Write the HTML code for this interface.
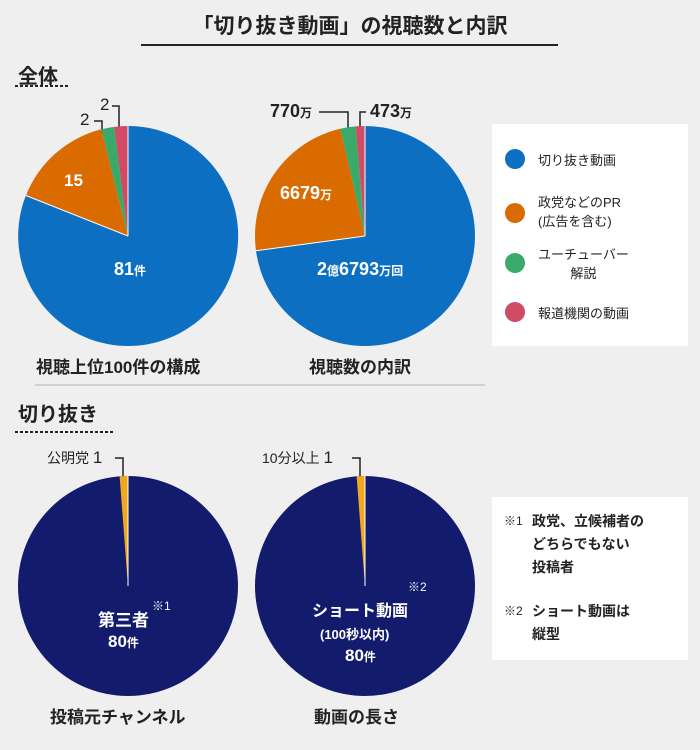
<!DOCTYPE html><html><head><meta charset="utf-8"><style>
body{margin:0;width:700px;height:750px;background:#efefef;font-family:"Liberation Sans","Noto Sans CJK JP",sans-serif;color:#222;position:relative;overflow:hidden}
.a{position:absolute;white-space:nowrap}
.b{font-weight:bold}
.dot{height:2px;background:repeating-linear-gradient(90deg,#222 0 3px,transparent 3px 5px)}
</style></head><body>
<div class="a b" style="left:0;width:700px;top:10px;text-align:center;font-size:21px">「切り抜き動画」の視聴数と内訳</div>
<div class="a" style="left:141px;top:44px;width:417px;height:2px;background:#222"></div>
<div class="a b" style="left:18px;top:60px;font-size:20px">全体</div>
<div class="a dot" style="left:15px;top:85px;width:55px"></div>
<div class="a" style="left:35px;top:384px;width:450px;height:2px;background:#d0d0d0"></div>
<div class="a b" style="left:18px;top:398px;font-size:20px">切り抜き</div>
<div class="a dot" style="left:15px;top:431px;width:100px"></div>

<svg class="a" style="left:0;top:0" width="700" height="750">
<g stroke="#222" stroke-width="1.5" fill="none">
<polyline points="94,121 102,121 102,135"/>
<polyline points="112,106 119,106 119,128"/>
<polyline points="319,112 348,112 348,130"/>
<polyline points="366,112 360,112 360,128"/>
<polyline points="115,458 123,458 123,478"/>
<polyline points="352,458 360,458 360,478"/>
</g>
<g transform="translate(128,236)">
<path d="M0,0 L0,-110 A110,110 0 1 1 -102.1,-40.5Z" fill="#0c6fc1"/>
<path d="M0,0 L-102.1,-40.5 A110,110 0 0 1 -26.6,-106.7Z" fill="#d96b00"/>
<path d="M0,0 L-26.6,-106.7 A110,110 0 0 1 -13.8,-109.1Z" fill="#3aaa6b"/>
<path d="M0,0 L-13.8,-109.1 A110,110 0 0 1 0,-110Z" fill="#cf4b66"/>
<g stroke="#fff" stroke-width="1"><line x1="0" y1="0" x2="0" y2="-110"/><line x1="0" y1="0" x2="-102.1" y2="-40.5"/></g>
</g>
<g transform="translate(365,236)">
<path d="M0,0 L0,-110 A110,110 0 1 1 -109,14.8Z" fill="#0c6fc1"/>
<path d="M0,0 L-109,14.8 A110,110 0 0 1 -24.6,-107.2Z" fill="#d96b00"/>
<path d="M0,0 L-24.6,-107.2 A110,110 0 0 1 -9.4,-109.6Z" fill="#3aaa6b"/>
<path d="M0,0 L-9.4,-109.6 A110,110 0 0 1 0,-110Z" fill="#cf4b66"/>
<g stroke="#fff" stroke-width="1"><line x1="0" y1="0" x2="0" y2="-110"/><line x1="0" y1="0" x2="-109" y2="14.8"/></g>
</g>
<g transform="translate(128,586)">
<circle r="110" fill="#131b6c"/>
<path d="M0,0 L-8.4,-109.7 A110,110 0 0 1 0,-110Z" fill="#f0a91e"/>
<line x1="0" y1="0" x2="0" y2="-110" stroke="#fff" stroke-width="1"/>
</g>
<g transform="translate(365,586)">
<circle r="110" fill="#131b6c"/>
<path d="M0,0 L-8.4,-109.7 A110,110 0 0 1 0,-110Z" fill="#f0a91e"/>
<line x1="0" y1="0" x2="0" y2="-110" stroke="#fff" stroke-width="1"/>
</g>
</svg>

<div class="a" style="left:80px;top:110px;font-size:17px">2</div>
<div class="a" style="left:100px;top:95px;font-size:17px">2</div>
<div class="a b" style="left:270px;top:101px;font-size:18px">770<span style="font-size:12px">万</span></div>
<div class="a b" style="left:370px;top:101px;font-size:18px">473<span style="font-size:12px">万</span></div>
<div class="a b" style="left:64px;top:171px;font-size:17px;color:#fff">15</div>
<div class="a b" style="left:280px;top:183px;font-size:18px;color:#fff">6679<span style="font-size:12px">万</span></div>
<div class="a b" style="left:114px;top:259px;font-size:18px;color:#fff">81<span style="font-size:12px">件</span></div>
<div class="a b" style="left:317px;top:259px;font-size:18px;color:#fff">2<span style="font-size:12px">億</span>6793<span style="font-size:12px">万回</span></div>
<div class="a b" style="left:36px;top:353px;font-size:17px">視聴上位100件の構成</div>
<div class="a b" style="left:309px;top:353px;font-size:17px">視聴数の内訳</div>

<div class="a" style="left:492px;top:124px;width:196px;height:222px;background:#fff"></div>
<div class="a" style="left:505px;top:149px;width:20px;height:20px;border-radius:50%;background:#0c6fc1"></div>
<div class="a" style="left:538px;top:150px;font-size:13px">切り抜き動画</div>
<div class="a" style="left:505px;top:203px;width:20px;height:20px;border-radius:50%;background:#d96b00"></div>
<div class="a" style="left:538px;top:193px;font-size:13px;line-height:19px">政党などのPR<br>(広告を含む)</div>
<div class="a" style="left:505px;top:253px;width:20px;height:20px;border-radius:50%;background:#3aaa6b"></div>
<div class="a" style="left:538px;top:245px;font-size:13px;line-height:19px;text-align:center">ユーチューバー<br>解説</div>
<div class="a" style="left:505px;top:302px;width:20px;height:20px;border-radius:50%;background:#cf4b66"></div>
<div class="a" style="left:538px;top:303px;font-size:13px">報道機関の動画</div>

<div class="a" style="left:47px;top:448px;font-size:14px">公明党 <span style="font-size:17px">1</span></div>
<div class="a" style="left:262px;top:448px;font-size:14px">10分以上 <span style="font-size:17px">1</span></div>
<div class="a b" style="left:98px;top:606px;font-size:17px;color:#fff">第三者</div>
<div class="a" style="left:152px;top:597px;font-size:12px;color:#fff">※1</div>
<div class="a b" style="left:108px;top:632px;font-size:17px;color:#fff">80<span style="font-size:12px">件</span></div>
<div class="a" style="left:408px;top:578px;font-size:12px;color:#fff">※2</div>
<div class="a b" style="left:312px;top:597px;font-size:16px;color:#fff">ショート動画</div>
<div class="a b" style="left:320px;top:624px;font-size:13px;color:#fff">(100秒以内)</div>
<div class="a b" style="left:345px;top:646px;font-size:17px;color:#fff">80<span style="font-size:12px">件</span></div>
<div class="a b" style="left:50px;top:703px;font-size:17px">投稿元チャンネル</div>
<div class="a b" style="left:314px;top:703px;font-size:17px">動画の長さ</div>

<div class="a" style="left:492px;top:497px;width:196px;height:163px;background:#fff"></div>
<div class="a" style="left:504px;top:512px;font-size:12px">※1</div>
<div class="a b" style="left:532px;top:510px;font-size:14px;line-height:23px">政党、立候補者の<br>どちらでもない<br>投稿者</div>
<div class="a" style="left:504px;top:602px;font-size:12px">※2</div>
<div class="a b" style="left:532px;top:600px;font-size:14px;line-height:23px">ショート動画は<br>縦型</div>
</body></html>
